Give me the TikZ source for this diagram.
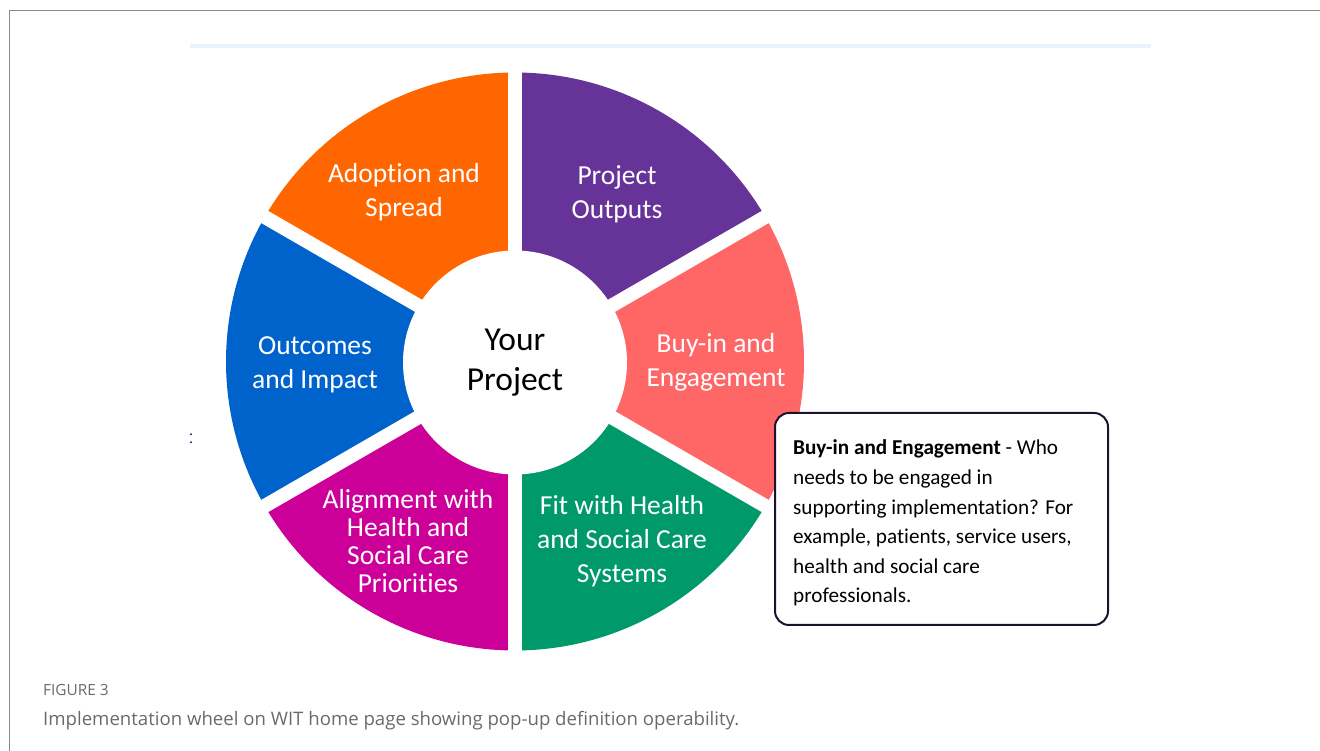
\documentclass[tikz,border=0pt]{standalone}
\usepackage{fontspec}
\setmainfont{Carlito}[Ligatures=NoCommon]
\newfontfamily\capfont{Open Sans}
\definecolor{wOrange}{HTML}{FF6600}
\definecolor{wPurple}{HTML}{663399}
\definecolor{wCoral}{HTML}{FF6666}
\definecolor{wGreen}{HTML}{00996A}
\definecolor{wMagenta}{HTML}{CC0099}
\definecolor{wBlue}{HTML}{0063CC}
\definecolor{frameGrey}{HTML}{8A8A8A}
\definecolor{ruleBlue}{HTML}{EAF2FC}
\definecolor{boxEdge}{HTML}{1E1030}
\definecolor{capGrey}{HTML}{6A6A6A}
\begin{document}
\begin{tikzpicture}[x=1pt,y=1pt,
  seglabel/.style={text=white, align=center, inner sep=0pt,
    font=\fontsize{27.5}{34}\selectfont},
  seglabeltight/.style={seglabel, font=\fontsize{27.5}{28}\selectfont},
  hubstyle/.style={circle, fill=white, minimum size=224pt, inner sep=0pt,
    align=center, font=\fontsize{33.5}{40}\selectfont},
  popup/.style={draw=boxEdge, line width=2pt, fill=white, rounded corners=14pt},
  gap/.style={white, line width=14pt}]
\useasboundingbox (0,0) rectangle (1320,751);

% page frame and header rule
\draw[frameGrey, line width=1.5pt] (9.5,0) -- (9.5,740.5) -- (1320,740.5);
\draw[ruleBlue, line width=4pt] (190,705) -- (1151,705);

% the wheel
\coordinate (C) at (515,389.5);
\def\R{289}
\fill[wPurple]  (C) -- ++(30:\R)  arc[start angle=30,  end angle=90,  radius=\R] -- cycle;
\fill[wOrange]  (C) -- ++(90:\R)  arc[start angle=90,  end angle=150, radius=\R] -- cycle;
\fill[wBlue]    (C) -- ++(150:\R) arc[start angle=150, end angle=210, radius=\R] -- cycle;
\fill[wMagenta] (C) -- ++(210:\R) arc[start angle=210, end angle=270, radius=\R] -- cycle;
\fill[wGreen]   (C) -- ++(270:\R) arc[start angle=270, end angle=330, radius=\R] -- cycle;
\fill[wCoral]   (C) -- ++(-30:\R) arc[start angle=-30, end angle=30,  radius=\R] -- cycle;
\foreach \a in {90,30,-30}
  \draw[gap] ([shift={(\a:300)}]C) -- ([shift={(\a+180:300)}]C);

\node[hubstyle] (hub) at (515,388.5) {Your\\Project};

\node[seglabel] (adopt)    at (404,559) {Adoption and\\Spread};
\node[seglabel] (outputs)  at (617,557) {Project\\Outputs};
\node[seglabel] (buyin)    at (716,389) {Buy-in and\\Engagement};
\node[seglabel] (outcomes) at (315,386) {Outcomes\\and Impact};
\node[seglabeltight] (align) at (408,210) {Alignment with\\Health and\\Social Care\\Priorities};
\node[seglabel] (fit)      at (622,210) {Fit with Health\\and Social Care\\Systems};

% small mark left of the wheel
\fill[boxEdge!60!wBlue] (191,316.7) circle (1.1);
\fill[boxEdge!60!wBlue] (191,308.7) circle (1.2);

% pop-up definition box
\draw[popup] (775,338) rectangle (1108,126);
\node[anchor=base west, align=left, inner sep=0pt,
  font=\fontsize{21.2}{29.6}\selectfont] (popuptext) at (793,148)
  {\textbf{Buy-in and Engagement} - Who\\
   needs to be engaged in\\
   supporting implementation? For\\
   example, patients, service users,\\
   health and social care\\
   professionals.};

% caption
\node[anchor=base west, inner sep=0pt, text=capGrey,
  font=\capfont\fontsize{15.4}{17}\selectfont] (figlabel) at (43,55) {FIGURE 3};
\node[anchor=base west, inner sep=0pt, text=capGrey,
  font=\capfont\fontsize{18.6}{21}\selectfont] (caption) at (43,25)
  {Implementation wheel on WIT home page showing pop-up definition operability.};
\end{tikzpicture}
\end{document}
